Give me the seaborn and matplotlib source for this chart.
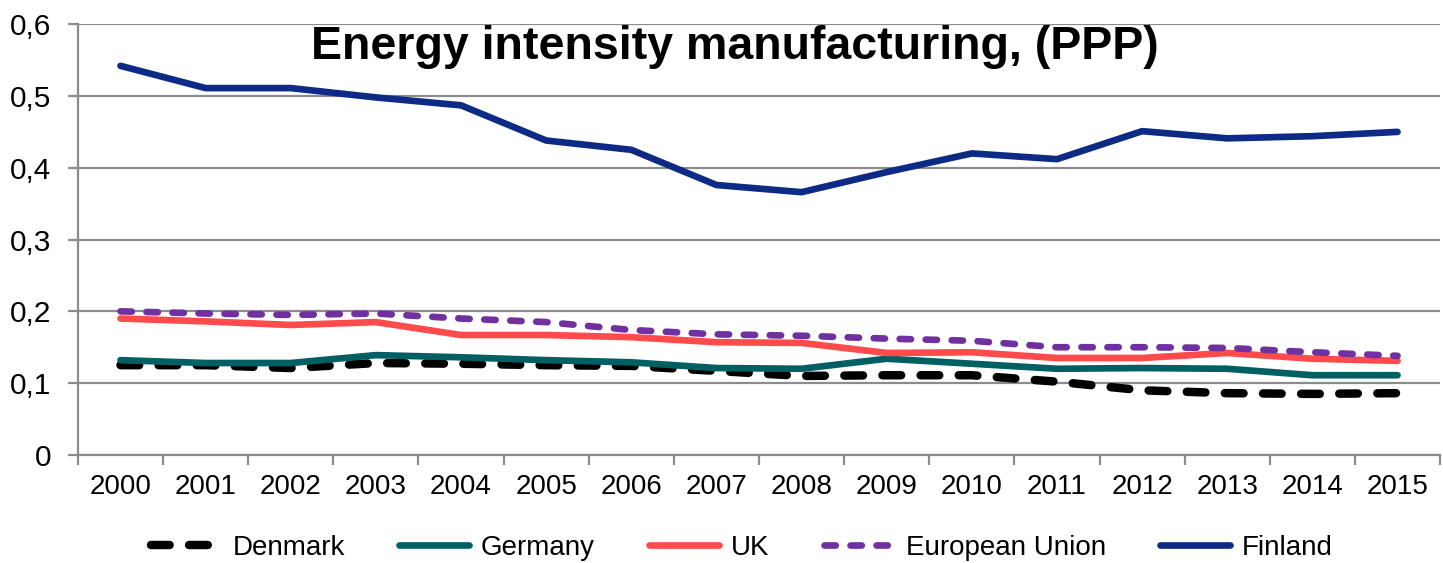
import pandas as pd
import seaborn as sns
import matplotlib.pyplot as plt
from matplotlib.ticker import FixedLocator, FuncFormatter

# Data
years = list(range(2000, 2016))
denmark = [0.125, 0.125, 0.121, 0.128, 0.127, 0.125, 0.124, 0.117, 0.110, 0.111, 0.111, 0.102, 0.090, 0.086, 0.085, 0.086]
germany = [0.132, 0.128, 0.128, 0.139, 0.136, 0.132, 0.129, 0.121, 0.120, 0.134, 0.127, 0.120, 0.121, 0.120, 0.111, 0.111]
uk = [0.190, 0.186, 0.181, 0.185, 0.167, 0.167, 0.164, 0.157, 0.156, 0.142, 0.143, 0.135, 0.135, 0.142, 0.134, 0.131]
eu = [0.200, 0.197, 0.195, 0.197, 0.190, 0.185, 0.174, 0.168, 0.166, 0.162, 0.159, 0.150, 0.150, 0.149, 0.143, 0.138]
finland = [0.542, 0.511, 0.511, 0.498, 0.487, 0.438, 0.425, 0.376, 0.366, 0.394, 0.420, 0.412, 0.451, 0.441, 0.444, 0.450]

series = ['Denmark', 'Germany', 'UK', 'European Union', 'Finland']
values = [denmark, germany, uk, eu, finland]
colors = ['#000000', '#005F63', '#FF4B4B', '#7030A0', '#0D2B84']
widths = [6.1, 4.8, 4.8, 4.8, 4.8]
dash_styles = [(2.2, 2.3), None, None, (1.7, 2.2), None]

df = pd.DataFrame({'Year': years * len(series),
                   'Country': [s for s in series for _ in years],
                   'Value': [v for vals in values for v in vals]})

sns.set_style('white')
plt.rcParams['font.family'] = ['Liberation Sans', 'DejaVu Sans']
plt.rcParams['text.color'] = 'black'

fig = plt.figure(figsize=(14.43, 5.63), dpi=100)
ax = fig.add_axes([0.054, 0.192, 0.944, 0.765])

for name, col, lw, ds in zip(series, colors, widths, dash_styles):
    sub = df[df['Country'] == name]
    sns.lineplot(data=sub, x='Year', y='Value', ax=ax, color=col, linewidth=lw, label=name)
    line = ax.get_lines()[-1]
    if ds is not None:
        line.set_dashes(ds)
        line.set_dash_capstyle('round')
    line.set_solid_capstyle('round')

ax.set_xlim(1999.5, 2015.5)
ax.set_ylim(0, 0.6)
ax.set_xticks(years)
ax.xaxis.set_minor_locator(FixedLocator([y - 0.5 for y in years] + [2015.5]))
ax.set_yticks([0, 0.1, 0.2, 0.3, 0.4, 0.5, 0.6])
ax.yaxis.set_major_formatter(FuncFormatter(lambda v, p: '0' if v == 0 else f'{v:.1f}'.replace('.', ',')))
ax.grid(axis='y', color='#8c8c8c', linewidth=1.6)
ax.set_axisbelow(True)
ax.tick_params(axis='x', which='major', length=0, labelsize=20, pad=14, labelcolor='black')
ax.tick_params(axis='x', which='minor', length=7, width=1.6, color='#8c8c8c', direction='out', bottom=True)
ax.tick_params(axis='y', length=7, width=1.6, color='#8c8c8c', direction='out', labelsize=21.5, left=True,
               labelcolor='black', pad=12)
ax.set_xlabel('')
ax.set_ylabel('')

for side in ['top', 'right']:
    ax.spines[side].set_visible(False)
for side in ['left', 'bottom']:
    ax.spines[side].set_color('#8c8c8c')
    ax.spines[side].set_linewidth(1.6)

ax.set_title('Energy intensity manufacturing, (PPP)', fontsize=33.5, fontweight='bold',
             x=0.482, y=0.92, pad=0, color='black')

ax.get_legend().remove()
handles, labels = ax.get_legend_handles_labels()
fig.legend(handles, labels, loc='center', bbox_to_anchor=(0.514, 0.027), ncol=5, frameon=False,
           fontsize=20, handlelength=2.5, handletextpad=0.45, columnspacing=1.95, borderpad=0)

plt.savefig('out.png', dpi=100)
